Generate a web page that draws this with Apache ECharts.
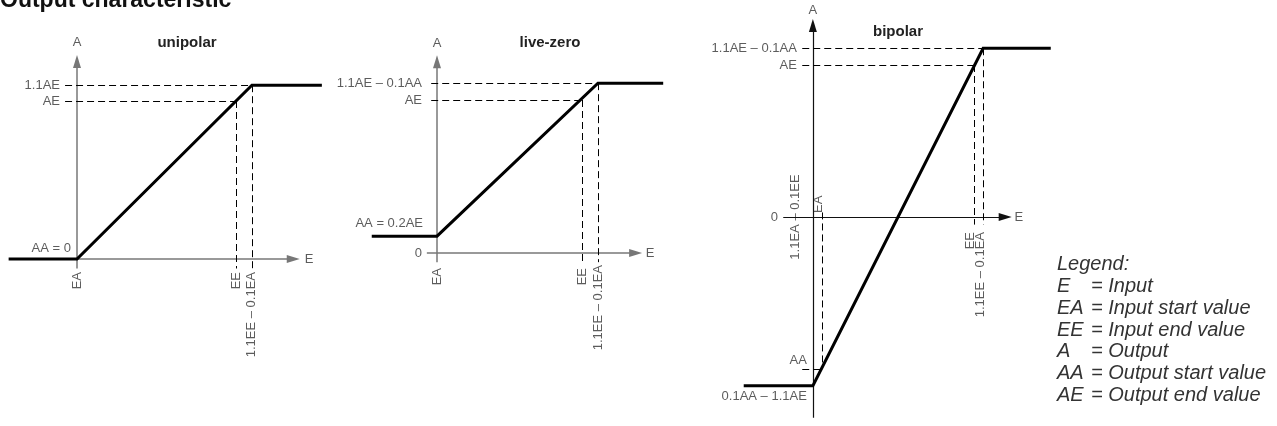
<!DOCTYPE html>
<html><head><meta charset="utf-8">
<script src="https://cdn.jsdelivr.net/npm/echarts@6/dist/echarts.min.js"></script>
<style>html,body{margin:0;padding:0;background:#fff}#c{width:1277px;height:426px}</style>
</head><body><div id="c"></div>
<script>
// ---------- data (E = input, A = output) ----------
// unipolar
const uniCurveE = [-43, 0, 110, 154];
const uniCurveA = [0, 0, 110, 110];
const uniMarksE = [0, 100, 110];                 // EA, EE, 1.1EE – 0.1EA
const uniLabelsE = ['EA', 'EE', '1.1EE – 0.1EA'];
const uniMarksA = [0, 100, 110];                 // AA, AE, 1.1AE
const uniLabelsA = ['AA = 0', 'AE', '1.1AE'];
const uniAxisE = [0, 136];
const uniAxisA = [-6, 125];
// live-zero
const lzCurveE = [-45, 0, 111, 156];
const lzCurveA = [11, 11, 111, 111];
const lzMarksE = [0, 100, 111];
const lzLabelsE = ['EA', 'EE', '1.1EE – 0.1EA'];
const lzMarksA = [11, 100, 111];
const lzLabelsA = ['AA = 0.2AE', 'AE', '1.1AE – 0.1AA'];
const lzAxisE = [-7, 137];
const lzAxisA = [-6, 125];
// bipolar
const biCurveE = [-203, -112, 112, 201];
const biCurveA = [-111, -111, 111, 111];
const biMarksE = [-100, 100, 112, -112];         // EA, EE, 1.1EE – 0.1EA, 1.1EA – 0.1EE
const biLabelsE = ['EA', 'EE', '1.1EE – 0.1EA', '1.1EA – 0.1EE'];
const biMarksA = [-100, 100, 111, -111];         // AA, AE, top, bottom
const biLabelsA = ['AA', 'AE', '1.1AE – 0.1AA', '0.1AA – 1.1AE'];
const biAxisE = [-151, 141];
const biAxisA = [-132, 126];

const panelTitles = ['unipolar', 'live-zero', 'bipolar'];
const legendKeys = ['E', 'EA', 'EE', 'A', 'AA', 'AE'];
const legendTexts = ['Input', 'Input start value', 'Input end value', 'Output', 'Output start value', 'Output end value'];

// ---------- helpers ----------
const FONT = "'Liberation Sans', Arial, Helvetica, sans-serif";
const zip = (xs, ys) => xs.map((x, i) => [x, ys[i]]);
const DASH = {color: '#000', width: 1, type: [7, 4]};
function seg(p, q, style, arrow) {
  return [
    {coord: p, symbol: 'none', lineStyle: style},
    {coord: q, symbol: arrow ? 'triangle' : 'none', symbolSize: [8, 13], lineStyle: style}
  ];
}
function lab(text, e, a, o) {
  return {name: text, value: [e, a], label: Object.assign({}, o)};
}
// rotated (90° CCW) label: the offset is given on screen and converted to the label's local frame
function rot(text, e, a, align, dx, dy) {
  return lab(text, e, a, {rotate: 90, align: align, verticalAlign: 'middle', offset: [-dy, dx]});
}
function left(text, e, a, dx, dy) {
  return lab(text, e, a, {align: 'right', verticalAlign: 'middle', offset: [dx, dy]});
}
function center(text, e, a) {
  return lab(text, e, a, {align: 'center', verticalAlign: 'middle', offset: [0, 0]});
}
function panel(i, curveE, curveA, lines, labels) {
  return [
    {
      type: 'line', xAxisIndex: i, yAxisIndex: i, clip: false, silent: true,
      data: zip(curveE, curveA), symbol: 'none',
      lineStyle: {color: '#000', width: 3, join: 'miter'}, z: 5,
      markLine: {silent: true, animation: false, symbol: ['none', 'none'], label: {show: false},
        emphasis: {disabled: true}, data: lines}
    },
    {
      type: 'scatter', xAxisIndex: i, yAxisIndex: i, clip: false, silent: true,
      symbolSize: 1, itemStyle: {color: 'rgba(0,0,0,0)'},
      label: {show: true, position: 'inside', formatter: '{b}', color: '#333', fontSize: 13, fontFamily: FONT},
      data: labels
    }
  ];
}

// ---------- panels ----------
const UAX = {color: '#777', width: 1.5, type: 'solid'};
const BAX = {color: '#111', width: 1.2, type: 'solid'};

const uniLines = [
  seg([uniAxisE[0], 0], [uniAxisE[1], 0], UAX, true),
  seg([0, uniAxisA[0]], [0, uniAxisA[1]], UAX, true),
  seg([-7.5, uniMarksA[2]], [uniMarksE[2], uniMarksA[2]], DASH),
  seg([-7.5, uniMarksA[1]], [uniMarksE[1], uniMarksA[1]], DASH),
  seg([uniMarksE[1], uniMarksA[1]], [uniMarksE[1], -6], DASH),
  seg([uniMarksE[2], uniMarksA[2]], [uniMarksE[2], -6], DASH)
];
const uniLabels = [
  center('A', 0, 137), center('E', 146, 0),
  left(uniLabelsA[2], 0, uniMarksA[2], -17, 0),
  left(uniLabelsA[1], 0, uniMarksA[1], -17, 0),
  left(uniLabelsA[0], 0, uniMarksA[0], -6, -11),
  rot(uniLabelsE[0], uniMarksE[0], 0, 'right', 0, 13),
  rot(uniLabelsE[1], uniMarksE[1], 0, 'right', 0, 13),
  rot(uniLabelsE[2], uniMarksE[2], 0, 'right', 0, 13)
];

const lzLines = [
  seg([lzAxisE[0], 0], [lzAxisE[1], 0], UAX, true),
  seg([0, lzAxisA[0]], [0, lzAxisA[1]], UAX, true),
  seg([-4, lzMarksA[2]], [lzMarksE[2], lzMarksA[2]], DASH),
  seg([-4, lzMarksA[1]], [lzMarksE[1], lzMarksA[1]], DASH),
  seg([lzMarksE[1], lzMarksA[1]], [lzMarksE[1], -6], DASH),
  seg([lzMarksE[2], lzMarksA[2]], [lzMarksE[2], -6], DASH)
];
const lzLabels = [
  center('A', 0, 137), center('E', 147, 0),
  left(lzLabelsA[2], 0, lzMarksA[2], -15, 0),
  left(lzLabelsA[1], 0, lzMarksA[1], -15, 0),
  left(lzLabelsA[0], 0, lzMarksA[0], -14, -13),
  left('0', 0, 0, -15, 0),
  rot(lzLabelsE[0], lzMarksE[0], 0, 'right', 0, 15),
  rot(lzLabelsE[1], lzMarksE[1], 0, 'right', 0, 15),
  rot(lzLabelsE[2], lzMarksE[2], 0, 'right', 0, 12)
];

const biLines = [
  seg([biAxisE[0], 0], [biAxisE[1], 0], BAX, true),
  seg([biMarksE[3], biAxisA[0]], [biMarksE[3], biAxisA[1]], BAX, true),
  seg([-126, biMarksA[2]], [biMarksE[2], biMarksA[2]], DASH),
  seg([-126, biMarksA[1]], [biMarksE[1], biMarksA[1]], DASH),
  seg([biMarksE[1], biMarksA[1]], [biMarksE[1], -5], DASH),
  seg([biMarksE[2], biMarksA[2]], [biMarksE[2], -5], DASH),
  seg([biMarksE[0], 3], [biMarksE[0], biMarksA[0]], DASH),
  seg([-126, biMarksA[0]], [biMarksE[0], biMarksA[0]], DASH)
];
const biLabels = [
  center('A', biMarksE[3], 136), center('E', 159, 0),
  left(biLabelsA[2], biMarksE[3], biMarksA[2], -16, 0),
  left(biLabelsA[1], biMarksE[3], biMarksA[1], -16, 0),
  left('0', biMarksE[3], 0, -35, 0),
  left(biLabelsA[0], biMarksE[3], biMarksA[0], -6, -9),
  left(biLabelsA[3], biMarksE[3], biMarksA[3], -6, 11),
  rot(biLabelsE[3], biMarksE[3], 0, 'center', -17, 0),
  rot(biLabelsE[0], biMarksE[0], 0, 'left', -4, -4),
  rot(biLabelsE[1], biMarksE[1], 0, 'right', -4, 15),
  rot(biLabelsE[2], biMarksE[2], 0, 'right', -3, 15)
];

// ---------- chart ----------
const option = {
  animation: false,
  backgroundColor: '#fff',
  textStyle: {fontFamily: FONT},
  title: [
    {text: 'Output characteristic', left: 0, top: -11, padding: 0,
      textStyle: {fontSize: 23, fontWeight: 'bold', color: '#111', fontFamily: FONT}},
    {text: panelTitles[0], left: 187, top: 35, textAlign: 'center', padding: 0,
      textStyle: {fontSize: 15, fontWeight: 'bold', color: '#222', fontFamily: FONT}},
    {text: panelTitles[1], left: 550, top: 35, textAlign: 'center', padding: 0,
      textStyle: {fontSize: 15, fontWeight: 'bold', color: '#222', fontFamily: FONT}},
    {text: panelTitles[2], left: 898, top: 24, textAlign: 'center', padding: 0,
      textStyle: {fontSize: 15, fontWeight: 'bold', color: '#222', fontFamily: FONT}},
    {text: ['Legend:'].concat(legendKeys.map((k, i) => '{k|' + k + '}= ' + legendTexts[i])).join('\n'),
      left: 1057, top: 254, padding: 0,
      textStyle: {fontSize: 20, fontStyle: 'italic', fontWeight: 'normal', color: '#333', lineHeight: 21.7, fontFamily: FONT,
        rich: {k: {width: 34, fontSize: 20, fontStyle: 'italic', color: '#333', lineHeight: 21.7, fontFamily: FONT}}}}
  ],
  grid: [
    {left: 77 - 1.59 * 45, width: 1.59 * 205, top: 259 - 1.58 * 140, height: 1.58 * 200, outerBoundsMode: 'none', containLabel: false},
    {left: 437 - 1.45 * 50, width: 1.45 * 210, top: 253 - 1.53 * 140, height: 1.53 * 200, outerBoundsMode: 'none', containLabel: false},
    {left: 898 - 0.76 * 220, width: 0.76 * 440, top: 217 - 1.52 * 140, height: 1.52 * 280, outerBoundsMode: 'none', containLabel: false}
  ],
  xAxis: [
    {type: 'value', gridIndex: 0, min: -45, max: 160, show: false},
    {type: 'value', gridIndex: 1, min: -50, max: 160, show: false},
    {type: 'value', gridIndex: 2, min: -220, max: 220, show: false}
  ],
  yAxis: [
    {type: 'value', gridIndex: 0, min: -60, max: 140, show: false},
    {type: 'value', gridIndex: 1, min: -60, max: 140, show: false},
    {type: 'value', gridIndex: 2, min: -140, max: 140, show: false}
  ],
  series: [].concat(
    panel(0, uniCurveE, uniCurveA, uniLines, uniLabels),
    panel(1, lzCurveE, lzCurveA, lzLines, lzLabels),
    panel(2, biCurveE, biCurveA, biLines, biLabels)
  )
};
const chart = echarts.init(document.getElementById('c'), null, {renderer: 'canvas'});
chart.setOption(option);
</script>
</body></html>
